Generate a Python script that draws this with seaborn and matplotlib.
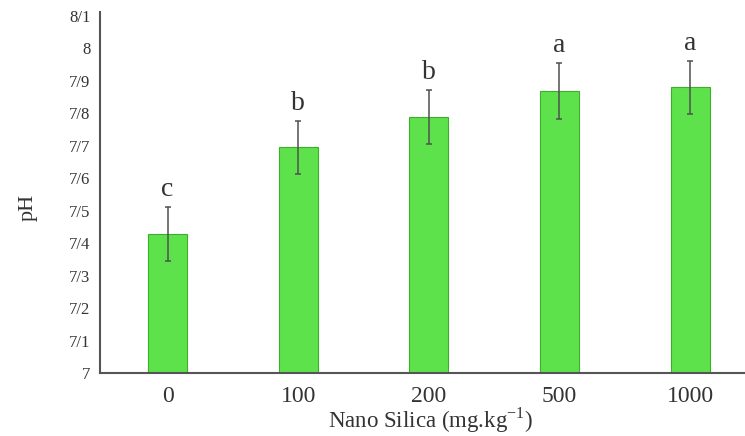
import matplotlib
matplotlib.use("Agg")
import matplotlib.pyplot as plt
import seaborn as sns
import pandas as pd

categories = ["0", "100", "200", "500", "1000"]
ph_means = [7.428, 7.694, 7.789, 7.868, 7.879]
ph_err = [0.082, 0.082, 0.083, 0.085, 0.082]
letters = ["c", "b", "b", "a", "a"]
yticks = [7.0, 7.1, 7.2, 7.3, 7.4, 7.5, 7.6, 7.7, 7.8, 7.9, 8.0, 8.1]
ytick_labels = ["7", "7/1", "7/2", "7/3", "7/4", "7/5", "7/6", "7/7", "7/8", "7/9", "8", "8/1"]

sns.set_theme(style="white")
plt.rcParams["font.family"] = ["Liberation Serif", "DejaVu Serif"]

df = pd.DataFrame({"dose": categories, "ph": ph_means})

fig = plt.figure(figsize=(7.45, 4.36), dpi=100)
ax = fig.add_axes([100 / 745, 1 - 373 / 436, 645 / 745, (373 - 12) / 436])

sns.barplot(data=df, x="dose", y="ph", order=categories, color="#5ee24b",
            saturation=1, width=0.3, edgecolor="#3cae2c", linewidth=0.8, ax=ax)
for p in ax.patches:
    p.set_y(7.0)
    p.set_height(p.get_height() - 7.0 if p.get_height() > 7 else p.get_height())

xs = list(range(len(categories)))
ax.errorbar(xs, ph_means, yerr=ph_err, fmt="none", ecolor="#505050",
            elinewidth=1.1, capsize=2.5, capthick=1.1)
for x, m, e, t in zip(xs, ph_means, ph_err, letters):
    ax.text(x, m + e + 0.034, t, ha="center", va="baseline", fontsize=20, color="#333333")

ax.set_ylim(7.0, 8.111)
ax.set_xlim(-0.517, 4.42)
ax.set_yticks(yticks)
ax.set_yticklabels(ytick_labels)
ax.tick_params(axis="both", length=0, colors="#333333")
ax.tick_params(axis="y", labelsize=12, pad=7)
ax.tick_params(axis="x", labelsize=17, pad=9)
ax.set_xlabel("Nano Silica (mg.kg$^{\\mathregular{-1}}$)", fontsize=16.5, color="#333333")
ax.xaxis.set_label_coords((431 - 100) / 645, (373 - 405) / 361)
ax.xaxis.label.set_va("top")
ax.set_ylabel("pH", fontsize=16, color="#333333")
ax.yaxis.set_label_coords(-0.096, 0.46)

sns.despine(ax=ax)
for s in ["left", "bottom"]:
    ax.spines[s].set_color("#555555")
    ax.spines[s].set_linewidth(1.5)

fig.savefig("out.png", dpi=100)
